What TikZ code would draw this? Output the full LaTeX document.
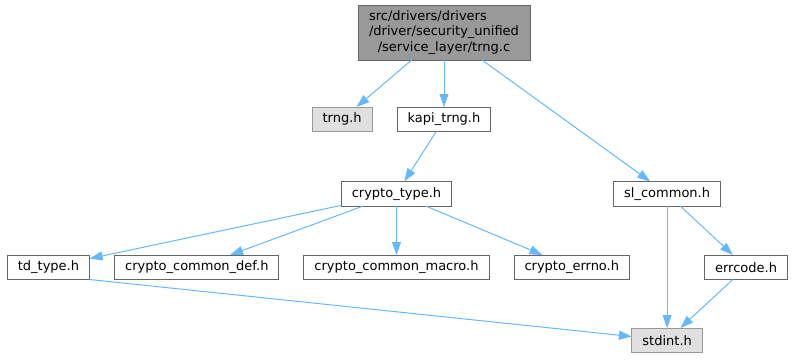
\documentclass[tikz,border=0pt]{standalone}
\usepackage{fontspec}
\setmainfont{DejaVu Sans}
\usepackage{tikz}
\usetikzlibrary{positioning,arrows.meta}
\definecolor{EdgeBlue}{HTML}{63B8FF}
\definecolor{BorderGray}{HTML}{666666}
\definecolor{SysGray}{HTML}{E0E0E0}
\definecolor{FileGray}{HTML}{999999}

\begin{document}
\begin{tikzpicture}[x=1bp, y=-1bp, node distance=49bp and 25bp, every node/.style={font=\fontsize{13bp}{15.5bp}\selectfont}, box/.style={draw=BorderGray, fill=white, line width=1bp, minimum height=24.5bp, inner xsep=10.5bp, inner ysep=0pt, outer sep=0pt}, sysbox/.style={box, draw=FileGray, fill=SysGray}, filebox/.style={box, fill=FileGray, minimum width=172bp, minimum height=55bp, align=center}, arr/.style={-{Triangle[length=13bp,width=9bp]}, EdgeBlue, line width=1bp}]
\useasboundingbox (0,0) rectangle (795,359);
\node[filebox] (trngc) at (444,32.5) {\makebox[0pt][l]{src/drivers/drivers}\phantom{/driver/security\_unified}\\/driver/security\_unified\\/service\_layer/trng.c};
\node[box, below=47bp of trngc] (kapi) {kapi\_trng.h};
\node[sysbox, left=of kapi] (trngh) {trng.h};
\node[box, below=50bp of kapi, xshift=-47.5bp] (ctype) {crypto\_type.h};
\node[box, right=162bp of ctype] (slcom) {sl\_common.h};
\node[box, below=of ctype] (cmacro) {crypto\_common\_macro.h};
\node[box, left=of cmacro] (cdef) {crypto\_common\_def.h};
\node[box, left=of cdef] (tdtype) {td\_type.h};
\node[box, right=of cmacro] (cerrno) {crypto\_errno.h};
\node[box, right=75bp of cerrno] (errcode) {errcode.h};
\node[sysbox, below=122bp of slcom] (stdint) {stdint.h};
\draw[arr] (trngc) -- (trngh);
\draw[arr] (trngc) -- (kapi);
\draw[arr] (trngc) -- (slcom);
\draw[arr] (kapi) -- (ctype);
\draw[arr] (ctype) -- (tdtype);
\draw[arr] (ctype) -- (cdef);
\draw[arr] (ctype) -- (cmacro);
\draw[arr] (ctype) -- (cerrno);
\draw[arr] (slcom) -- (stdint);
\draw[arr] (slcom) -- (errcode);
\draw[arr] (errcode) -- (stdint);
\draw[arr] (tdtype.south east) -- (stdint);
\end{tikzpicture}
\end{document}
